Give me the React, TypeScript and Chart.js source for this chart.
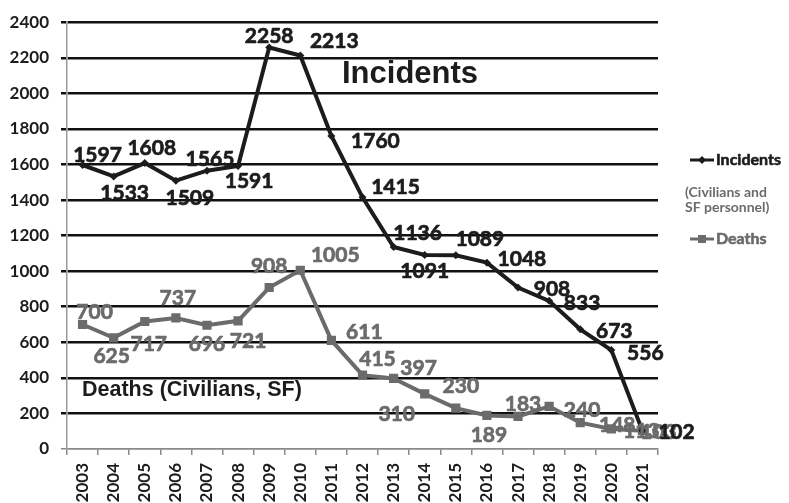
import React, { useEffect, useRef } from "react";
import { Chart, registerables } from "chart.js";

Chart.register(...registerables);

const years = ["2003","2004","2005","2006","2007","2008","2009","2010","2011","2012","2013","2014","2015","2016","2017","2018","2019","2020","2021"];
const incidents = [1597,1533,1608,1509,1565,1591,2258,2213,1760,1415,1136,1091,1089,1048,908,833,673,556,102];
const deaths = [700,625,717,737,696,721,908,1005,611,415,397,310,230,189,183,240,148,113,103];
const yMin = 0;
const yMax = 2400;
const yStep = 200;

// label placement relative to each point (dx, dy in px)
const incidentLabelOffsets = [[15,-10],[11,17],[7,-15],[14,18],[3,-11],[11,15],[0,-11],[34,-14],[44,5],[33,-10],[24,-14],[0,16],[24,-16],[35,-3],[34,2],[33,2],[34,2],[34,3],[34,1]];
const deathLabelOffsets = [[12,-12],[-2,18],[4,23],[2,-20],[0,19],[10,20],[0,-21],[35,-15],[33,-8],[15,-16],[25,-10],[-28,20],[5,-22],[2,20],[5,-12],[33,4],[37,3],[30,2],[16,2]];

const BLACK = "#1c1c1c";
const GREY = "#6b6b6b";
const FONT = "Lato, 'DejaVu Sans', sans-serif";
const ARIAL = "'Liberation Sans', Arial, sans-serif";

function heavyText(ctx: any, text: string, x: number, y: number, w: number) {
  ctx.lineWidth = w;
  ctx.lineJoin = "round";
  ctx.strokeStyle = ctx.fillStyle;
  ctx.strokeText(text, x, y);
  ctx.fillText(text, x, y);
}

const labelsPlugin = {
  id: "valueLabels",
  afterDatasetsDraw(chart: any) {
    const ctx = chart.ctx;
    ctx.save();
    ctx.textAlign = "center";
    ctx.textBaseline = "middle";
    ctx.font = `bold 21px ${FONT}`;
    const sets = [
      { idx: 1, offs: deathLabelOffsets, color: GREY },
      { idx: 0, offs: incidentLabelOffsets, color: BLACK },
    ];
    for (const s of sets) {
      const meta = chart.getDatasetMeta(s.idx);
      const data = chart.data.datasets[s.idx].data;
      ctx.fillStyle = s.color;
      meta.data.forEach((pt: any, i: number) => {
        const [dx, dy] = s.offs[i];
        heavyText(ctx, String(data[i]), pt.x + dx, pt.y + dy, 0.7);
      });
    }
    ctx.restore();
  },
  afterDraw(chart: any) {
    const ctx = chart.ctx;
    ctx.save();
    ctx.textBaseline = "middle";
    ctx.textAlign = "left";
    // annotations
    ctx.fillStyle = BLACK;
    ctx.font = `bold 31px ${ARIAL}`;
    ctx.fillText("Incidents", 342, 74);
    ctx.font = `bold 21.5px ${ARIAL}`;
    ctx.fillText("Deaths (Civilians, SF)", 82, 390);
    // legend
    ctx.strokeStyle = BLACK;
    ctx.lineWidth = 3;
    ctx.beginPath();
    ctx.moveTo(690, 160);
    ctx.lineTo(714, 160);
    ctx.stroke();
    ctx.fillStyle = BLACK;
    ctx.beginPath();
    ctx.moveTo(702, 156);
    ctx.lineTo(706, 160);
    ctx.lineTo(702, 164);
    ctx.lineTo(698, 160);
    ctx.closePath();
    ctx.fill();
    ctx.font = `bold 16px ${FONT}`;
    heavyText(ctx, "Incidents", 716, 160, 0.6);
    ctx.fillStyle = GREY;
    ctx.font = `bold 14px ${FONT}`;
    ctx.fillText("(Civilians and", 685, 192);
    ctx.fillText("SF personnel)", 685, 207);
    ctx.strokeStyle = GREY;
    ctx.lineWidth = 3;
    ctx.beginPath();
    ctx.moveTo(690, 239);
    ctx.lineTo(714, 239);
    ctx.stroke();
    ctx.fillRect(698, 235, 8, 8);
    ctx.font = `bold 16px ${FONT}`;
    heavyText(ctx, "Deaths", 716, 239, 0.6);
    ctx.restore();
  },
};

export default function App() {
  const ref = useRef<HTMLCanvasElement>(null);
  useEffect(() => {
    document.body.style.margin = "0";
    Chart.defaults.font.family = FONT;
    const chart = new Chart(ref.current!, {
      type: "line",
      data: {
        labels: years,
        datasets: [
          {
            label: "Incidents",
            data: incidents,
            borderColor: BLACK,
            backgroundColor: BLACK,
            borderWidth: 4,
            pointStyle: "rectRot",
            pointRadius: 4,
            pointBorderWidth: 0,
            tension: 0,
          },
          {
            label: "Deaths",
            data: deaths,
            borderColor: GREY,
            backgroundColor: GREY,
            borderWidth: 4,
            pointStyle: "rect",
            pointRadius: 6.5,
            pointBorderWidth: 0,
            tension: 0,
          },
        ],
      },
      options: {
        responsive: false,
        devicePixelRatio: 1,
        animation: false,
        layout: { padding: { left: 0, right: 131, top: 17, bottom: 0 } },
        plugins: { legend: { display: false }, tooltip: { enabled: false } },
        scales: {
          x: {
            offset: true,
            grid: {
              offset: true,
              drawOnChartArea: false,
              drawTicks: true,
              tickLength: 6,
              color: "#8a8a8a",
              lineWidth: 1.5,
            },
            border: { color: "#8a8a8a", width: 1.5 },
            ticks: {
              minRotation: 90,
              maxRotation: 90,
              autoSkip: false,
              padding: 8,
              color: BLACK,
              font: { size: 17, weight: "bold" },
            },
            afterFit(scale: any) {
              scale.height = 54;
            },
          },
          y: {
            min: yMin,
            max: yMax,
            grid: {
              color: (c: any) => (c.tick && c.tick.value === 0 ? "#8a8a8a" : "#111111"),
              lineWidth: (c: any) => (c.tick && c.tick.value === 0 ? 1.5 : 2.5),
              tickLength: 6,
            },
            border: { color: "#9a9a9a", width: 1.5 },
            ticks: {
              stepSize: yStep,
              padding: 12,
              color: BLACK,
              font: { size: 17, weight: "bold" },
              callback: (v: any) => String(v),
            },
            afterFit(scale: any) {
              scale.width = 67;
            },
          },
        },
      },
      plugins: [labelsPlugin],
    });
    return () => chart.destroy();
  }, []);
  return (
    <div style={{ position: "fixed", left: 0, top: 0, width: 789, height: 503, background: "#fff" }}>
      <canvas ref={ref} width={789} height={503} style={{ display: "block" }} />
    </div>
  );
}
